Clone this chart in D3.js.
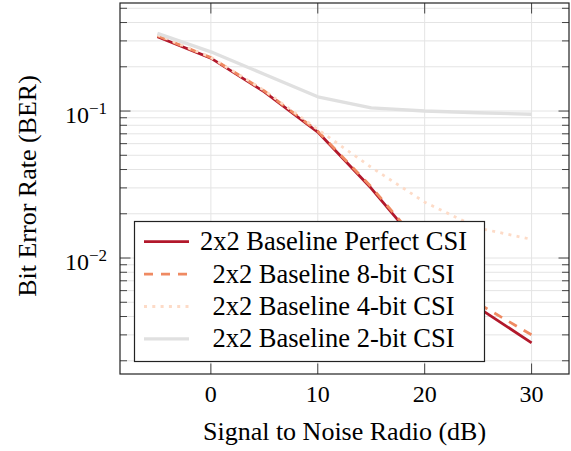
<!DOCTYPE html>
<html>
<head>
<meta charset="utf-8">
<script src="https://cdn.jsdelivr.net/npm/d3@7"></script>
<style>
  html, body { margin: 0; padding: 0; background: #fff; }
</style>
</head>
<body>
<div id="graph"></div>
<script>
// values
const snrDb = [-5, 0, 5, 10, 15, 20, 25, 30]
const berPerfect = [0.32, 0.229, 0.135, 0.072, 0.0298, 0.011, 0.0046, 0.00265]
const ber8bit = [0.325, 0.231, 0.137, 0.073, 0.0305, 0.0114, 0.0049, 0.003]
const ber4bit = [0.33, 0.232, 0.138, 0.075, 0.0414, 0.024, 0.016, 0.0134]
const ber2bit = [0.338, 0.253, 0.178, 0.125, 0.105, 0.1, 0.0974, 0.095]
const seriesNames = [
  '2x2 Baseline Perfect CSI',
  '2x2 Baseline 8-bit CSI',
  '2x2 Baseline 4-bit CSI',
  '2x2 Baseline 2-bit CSI',
]
const xTicks = [0, 10, 20, 30]
const yTicks = [1e-1, 1e-2]
const yTickExponents = ['−1', '−2']

const styles = [
  { color: '#b2182b', width: 2.8, dash: null },
  { color: '#ef8a62', width: 2.8, dash: '9,8' },
  { color: '#fddbc7', width: 2.8, dash: '3,5.3' },
  { color: '#e0e0e0', width: 3.4, dash: null },
]

const FONT = '"Liberation Serif", "DejaVu Serif", serif'
const W = 571
const H = 451
const plot = { left: 120, right: 569, top: 3, bottom: 374 }

const svg = d3
  .select('#graph')
  .append('svg')
  .attr('width', W)
  .attr('height', H)
  .attr('font-family', FONT)

const x = d3.scaleLinear().domain([-8.5, 33.5]).range([plot.left, plot.right])
const y = d3
  .scaleLog()
  .domain([10 ** -2.789, 10 ** -0.265])
  .range([plot.bottom, plot.top])

// minor positions on the log axis (2..9 of each decade)
const yMinor = []
for (let d = -3; d <= -1; d++) {
  for (let k = 2; k <= 9; k++) {
    const v = k * 10 ** d
    if (v >= y.domain()[0] && v <= y.domain()[1]) yMinor.push(v)
  }
}

// grid
const grid = svg.append('g').attr('stroke', '#e4e4e4').attr('stroke-width', 1)
grid
  .selectAll('.hgrid')
  .data(yMinor.concat(yTicks))
  .enter()
  .append('line')
  .attr('x1', plot.left)
  .attr('x2', plot.right)
  .attr('y1', (d) => y(d))
  .attr('y2', (d) => y(d))
grid
  .selectAll('.vgrid')
  .data(xTicks)
  .enter()
  .append('line')
  .attr('x1', (d) => x(d))
  .attr('x2', (d) => x(d))
  .attr('y1', plot.top)
  .attr('y2', plot.bottom)

// series
const series = [berPerfect, ber8bit, ber4bit, ber2bit]
const line = d3
  .line()
  .x((d) => x(d[0]))
  .y((d) => y(d[1]))

series.forEach((vals, i) => {
  svg
    .append('path')
    .datum(snrDb.map((s, j) => [s, vals[j]]))
    .attr('fill', 'none')
    .attr('stroke', styles[i].color)
    .attr('stroke-width', styles[i].width)
    .attr('stroke-dasharray', styles[i].dash)
    .attr('stroke-linejoin', 'round')
    .attr('d', line)
})

// ticks on all four sides, pointing inward
const ticks = svg.append('g').attr('stroke', '#444').attr('stroke-width', 1)
const major = 10.5
const minor = 7
xTicks.forEach((t) => {
  ticks.append('line').attr('x1', x(t)).attr('x2', x(t)).attr('y1', plot.bottom).attr('y2', plot.bottom - major)
  ticks.append('line').attr('x1', x(t)).attr('x2', x(t)).attr('y1', plot.top).attr('y2', plot.top + major)
})
yTicks.concat(yMinor).forEach((t, i) => {
  const len = i < yTicks.length ? major : minor
  ticks.append('line').attr('x1', plot.left).attr('x2', plot.left + len).attr('y1', y(t)).attr('y2', y(t))
  ticks.append('line').attr('x1', plot.right).attr('x2', plot.right - len).attr('y1', y(t)).attr('y2', y(t))
})

// frame
svg
  .append('rect')
  .attr('x', plot.left)
  .attr('y', plot.top)
  .attr('width', plot.right - plot.left)
  .attr('height', plot.bottom - plot.top)
  .attr('fill', 'none')
  .attr('stroke', '#222')
  .attr('stroke-width', 1.2)

// tick labels
svg
  .selectAll('.xlab')
  .data(xTicks)
  .enter()
  .append('text')
  .attr('x', (d) => x(d))
  .attr('y', 402)
  .attr('text-anchor', 'middle')
  .attr('font-size', 24)
  .text((d) => d)

yTicks.forEach((t, i) => {
  const txt = svg
    .append('text')
    .attr('x', 107)
    .attr('y', y(t) + 12)
    .attr('text-anchor', 'end')
    .attr('font-size', 24)
  txt.append('tspan').text('10')
  txt.append('tspan').attr('dy', -9).attr('font-size', 17).text(yTickExponents[i])
})

// axis labels
svg
  .append('text')
  .attr('x', (plot.left + plot.right) / 2)
  .attr('y', 440)
  .attr('text-anchor', 'middle')
  .attr('font-size', 26)
  .text('Signal to Noise Radio (dB)')

svg
  .append('text')
  .attr('transform', `translate(36, 186) rotate(-90)`)
  .attr('text-anchor', 'middle')
  .attr('font-size', 26)
  .text('Bit Error Rate (BER)')

// legend
const legend = svg.append('g')
legend
  .append('rect')
  .attr('x', 134.5)
  .attr('y', 221.5)
  .attr('width', 350)
  .attr('height', 140)
  .attr('fill', '#fff')
  .attr('stroke', '#222')
  .attr('stroke-width', 1.2)

seriesNames.forEach((name, i) => {
  const ly = 241.7 + i * 32.4
  legend
    .append('line')
    .attr('x1', 144)
    .attr('x2', 189)
    .attr('y1', ly)
    .attr('y2', ly)
    .attr('stroke', styles[i].color)
    .attr('stroke-width', styles[i].width)
    .attr('stroke-dasharray', styles[i].dash)
  legend
    .append('text')
    .attr('x', 333.5)
    .attr('y', ly + 8.5)
    .attr('text-anchor', 'middle')
    .attr('font-size', 26.5)
    .text(name)
})
</script>
</body>
</html>
